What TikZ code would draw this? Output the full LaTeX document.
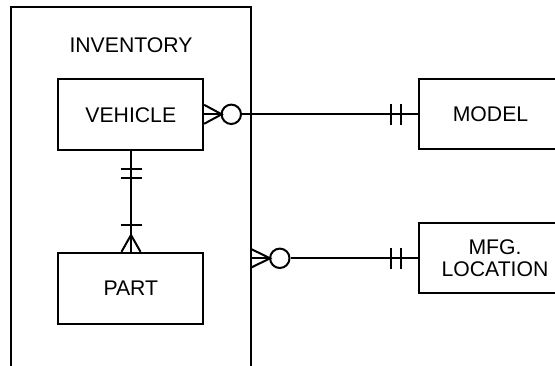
\documentclass[tikz,border=0pt]{standalone}
\usepackage{fontspec}
\setmainfont{Liberation Sans}
\begin{document}
\begin{tikzpicture}[x=1pt,y=-1pt,line width=2pt,
  ent/.style={draw,rectangle,minimum height=71pt,inner sep=0pt,font=\fontsize{21.2}{24}\selectfont,align=center},
  lbl/.style={inner sep=0pt,font=\fontsize{21.2}{24}\selectfont},
  ring/.style={draw,circle,fill=white,minimum size=19.4pt,inner sep=0pt}]
\useasboundingbox (0,0) rectangle (555,366);
\clip (0,0) rectangle (555,366);
% container
\draw (11,370) -- (11,6.7) -- (250.7,6.7) -- (250.7,370);
\node[lbl] (inv) at (131,45.5) {INVENTORY};
% entities
\node[ent,minimum width=144.7pt] (veh) at (130.8,114.8) {VEHICLE};
\node[ent,minimum width=144.7pt] (part) at (130.8,288.3) {PART};
\node[ent,minimum width=143pt,minimum height=70pt] (model) at (490.5,114) {MODEL};
\node[ent,minimum width=152pt,minimum height=70pt] (mfg) at (495,258) {MFG.\\[-2pt]LOCATION};
% vehicle -- model
\node[ring] (c1) at (231.3,114.3) {};
\draw (veh.east |- 0,104.8) -- (221.7,114.3) -- (veh.east |- 0,123.8);
\draw (veh.east |- 0,114.3) -- (c1.west);
\draw (c1.east) -- (model.west |- 0,114.3);
\draw (390.7,103.8) -- (390.7,124.8);
\draw (401,103.8) -- (401,124.8);
% inventory -- mfg
\coordinate (invR) at (250.7,258.3);
\node[ring] (c2) at (279.8,258.3) {};
\draw (250.7,248.8) -- (270.1,258.3) -- (250.7,267.8);
\draw (invR) -- (c2.west);
\draw (c2.east) -- (mfg.west |- 0,258.3);
\draw (390.7,247.8) -- (390.7,268.8);
\draw (400.7,247.8) -- (400.7,268.8);
% vehicle -- part
\draw (veh.south) -- (part.north);
\draw (120.5,169) -- (141.5,169);
\draw (120.5,178.3) -- (141.5,178.3);
\draw (120.5,225) -- (141.5,225);
\draw (121.5,0 |- part.north) -- (131,235) -- (140.5,0 |- part.north);
\end{tikzpicture}
\end{document}
